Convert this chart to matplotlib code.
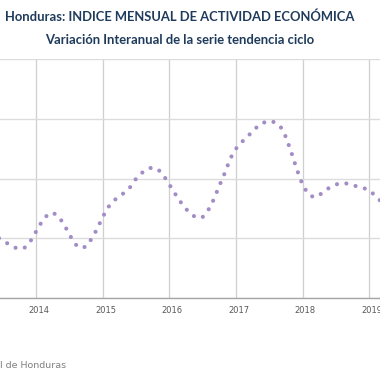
import matplotlib
matplotlib.use('Agg')
import matplotlib.pyplot as plt
import numpy as np

# monthly index: 0 = Jan 2014 (series starts May 2013)
month_start = -8
values = [2.15, 2.04, 1.93, 1.81, 1.70, 1.64, 1.69, 1.90,
          2.22, 2.54, 2.77, 2.86, 2.74, 2.48, 2.13, 1.81, 1.67, 1.72, 1.98, 2.31,
          2.71, 3.04, 3.26, 3.40, 3.54, 3.72, 3.99, 4.18, 4.32, 4.37, 4.30, 4.09,
          3.80, 3.50, 3.22, 2.98, 2.79, 2.68, 2.71, 2.94, 3.30, 3.76, 4.19, 4.68,
          5.00, 5.21, 5.40, 5.57, 5.77, 5.87, 5.93, 5.88, 5.74, 5.38, 4.85, 4.28,
          3.78, 3.48, 3.37, 3.44, 3.60, 3.71, 3.80, 3.85, 3.83, 3.76, 3.74, 3.68,
          3.60, 3.44, 3.25, 3.05]
years = ['2014', '2015', '2016', '2017', '2018', '2019']

months = np.arange(month_start, month_start + len(values))

fig = plt.figure(figsize=(3.8, 3.8), dpi=100)
ax = fig.add_axes([0, 1 - 298 / 380, 1, (298 - 59) / 380])

ax.plot(months, values, color='#a28dc6', lw=3.0, linestyle=(0, (0.001, 2.3)),
        dash_capstyle='round', solid_capstyle='round')

ax.set_xlim(-6.48, 61.92)
ax.set_ylim(0, 8)
ax.set_yticks([0, 2, 4, 6, 8])
ax.set_yticklabels([])
ax.set_xticks([12 * i for i in range(len(years))])
ax.set_xticklabels([])
ax.set_xticks([12 * i + 0.5 for i in range(len(years))], minor=True)
ax.set_xticklabels(years, minor=True, fontsize=6, color='#595959')
ax.tick_params(axis='both', which='both', length=0)
ax.tick_params(axis='x', which='minor', pad=6)
ax.grid(axis='y', color='#dcdcdc', lw=1.0)
ax.grid(axis='x', which='major', color='#cfcfcf', lw=0.9)
for s in ['top', 'left', 'right']:
    ax.spines[s].set_visible(False)
ax.spines['bottom'].set_color('#a6a6a6')
ax.spines['bottom'].set_linewidth(1.0)

fig.text(180 / 380, 1 - 17 / 380, 'Honduras: INDICE MENSUAL DE ACTIVIDAD ECONÓMICA',
         ha='center', va='center', fontsize=9.4, fontweight='bold', color='#1f3b5c',
         family='Lato')
fig.text(180 / 380, 1 - 40 / 380, 'Variación Interanual de la serie tendencia ciclo',
         ha='center', va='center', fontsize=9.4, fontweight='bold', color='#1f3b5c',
         family='Lato')
fig.text(66 / 380, 1 - 365 / 380, 'Fuente: Banco Central de Honduras',
         ha='right', va='center', fontsize=6.8, color='#808080')

fig.savefig('out.png', dpi=100)
